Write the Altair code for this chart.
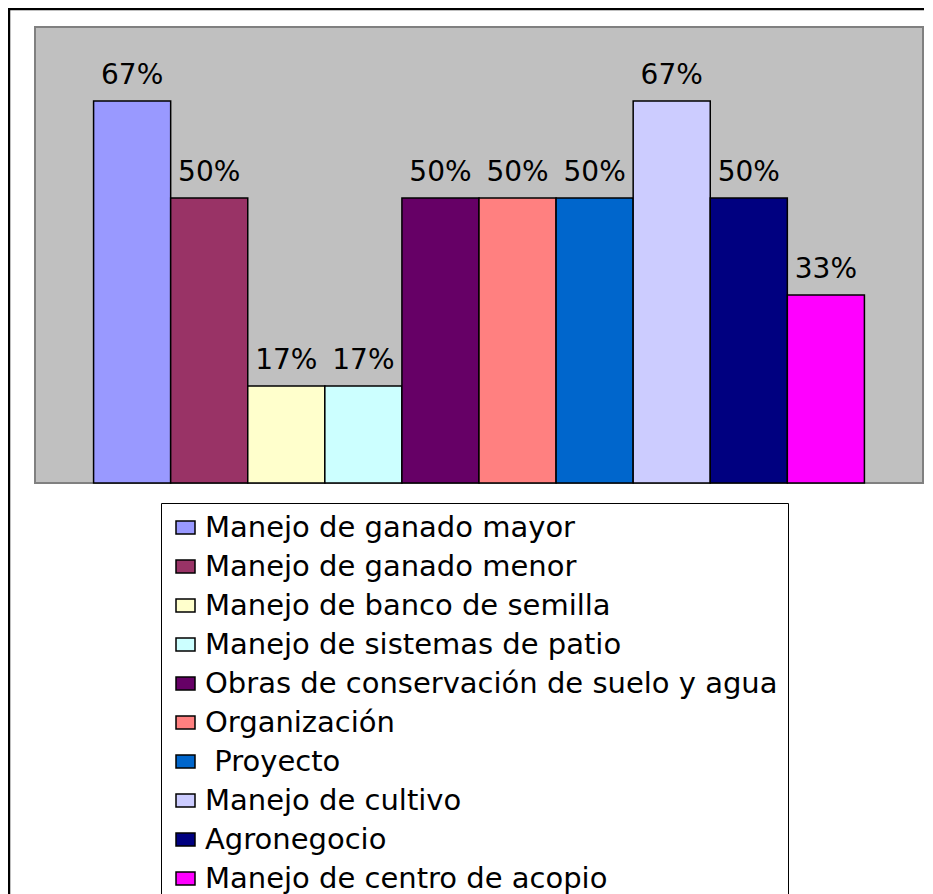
import altair as alt
import pandas as pd

categories = [
    "Manejo de ganado mayor",
    "Manejo de ganado menor",
    "Manejo de banco de semilla",
    "Manejo de sistemas de patio",
    "Obras de conservación de suelo y agua",
    "Organización",
    "\u200b\u00a0Proyecto",
    "Manejo de cultivo",
    "Agronegocio",
    "Manejo de centro de acopio",
]
values = [67, 50, 17, 17, 50, 50, 50, 67, 50, 33]
colors = ["#9999FF", "#993366", "#FFFFCC", "#CCFFFF", "#660066",
          "#FF8080", "#0066CC", "#CCCCFF", "#000080", "#FF00FF"]

df = pd.DataFrame({
    "cat": categories,
    "value": values,
    "label": [f"{v}%" for v in values],
})

FONT = "DejaVu Sans"

x_enc = alt.X("cat:N", sort=categories,
              scale=alt.Scale(paddingInner=0, paddingOuter=0.76), axis=None)
y_enc = alt.Y("value:Q", scale=alt.Scale(domain=[0, 80], nice=False, zero=True), axis=None)

base = alt.Chart(df)

bars = base.mark_bar(stroke="black", strokeWidth=1.5).encode(
    x=x_enc,
    y=y_enc,
    color=alt.Color(
        "cat:N", sort=categories,
        scale=alt.Scale(domain=categories, range=colors),
        legend=alt.Legend(
            title=None, orient="none", legendX=126, legendY=476,
            symbolType="M-1,-0.68H1V0.68H-1Z", symbolSize=361,
            symbolStrokeColor="black", symbolStrokeWidth=1.5, symbolOpacity=1,
            labelFont=FONT, labelFontSize=29, labelColor="black", labelLimit=0,
            labelOffset=5, rowPadding=9, padding=10,
            strokeColor="black", fillColor="white",
        ),
    ),
)

labels = base.mark_text(font=FONT, fontSize=28, baseline="alphabetic",
                        dy=-17, color="black").encode(
    x=x_enc, y=y_enc, text="label:N"
)

one = pd.DataFrame({"a": [0]})
frame_top = alt.Chart(one).mark_rule(color="black", strokeWidth=2.5).encode(
    x=alt.value(-27), x2=alt.value(889), y=alt.value(-18)
)
frame_left = alt.Chart(one).mark_rule(color="black", strokeWidth=2.5).encode(
    x=alt.value(-26), y=alt.value(-19), y2=alt.value(880)
)

chart = alt.layer(frame_top, frame_left, bars, labels).properties(
    width=888, height=456,
    autosize=alt.AutoSizeParams(type="none"),
    padding={"left": 27, "top": 19, "right": 2, "bottom": 411},
    background="white",
).configure_view(
    fill="#C0C0C0", stroke="#808080", strokeWidth=2
)

chart.save("out.html", embed_options={"renderer": "svg", "actions": False})
